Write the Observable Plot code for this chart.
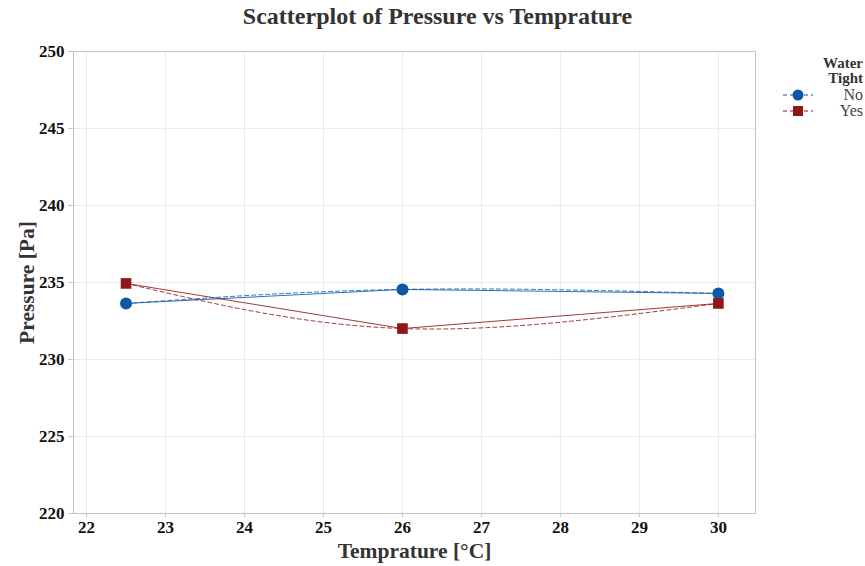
<!DOCTYPE html>
<html>
<head>
<meta charset="utf-8">
<script src="https://cdn.jsdelivr.net/npm/d3@7"></script>
<script src="https://cdn.jsdelivr.net/npm/@observablehq/plot@0.6"></script>
<style>
  body { margin: 0; background: #fff; }
  #wrap { position: relative; width: 865px; height: 566px; font-family: "Liberation Serif", "DejaVu Serif", serif; }
  #title { position: absolute; left: 0; width: 875px; top: 3px; text-align: center; font-weight: bold; font-size: 24px; color: #333; }
  #legend { position: absolute; right: 2px; top: 56px; font-size: 16px; color: #444; }
  #legend .lt { text-align: right; font-weight: bold; color: #333; line-height: 15px; font-size: 15px; margin-bottom: 1px; }
  #legend .row { display: flex; align-items: center; justify-content: space-between; height: 16px; }
  #legend .row span { margin-left: 26px; }
</style>
</head>
<body>
<div id="wrap">
  <div id="title">Scatterplot of Pressure vs Temprature</div>
  <div id="legend"></div>
</div>
<script>
const temps = [22.5, 26, 30];
const pressureNo = [233.64, 234.55, 234.29];
const pressureYes = [234.94, 232.01, 233.64];
const groups = ["No", "Yes"];
const groupColors = ["#0b57a8", "#8f1616"];
const xTicks = [22, 23, 24, 25, 26, 27, 28, 29, 30];
const yTicks = [220, 225, 230, 235, 240, 245, 250];

const data = [];
temps.forEach((t, i) => data.push({temp: t, pressure: pressureNo[i], group: "No"}));
temps.forEach((t, i) => data.push({temp: t, pressure: pressureYes[i], group: "Yes"}));
const color = {domain: groups, range: groupColors};

const plot = Plot.plot({
  width: 865,
  height: 566,
  marginLeft: 73,
  marginRight: 110,
  marginTop: 51,
  marginBottom: 53,
  style: {fontFamily: "'Liberation Serif', serif", background: "#fff"},
  x: {domain: [21.835, 30.47]},
  y: {domain: [220, 250]},
  color,
  marks: [
    Plot.gridX(xTicks, {stroke: "#ebebeb", strokeOpacity: 1}),
    Plot.gridY(yTicks, {stroke: "#ebebeb", strokeOpacity: 1}),
    Plot.frame({stroke: "#c4c4c4"}),
    Plot.axisY(yTicks, {tickSize: 5, tickPadding: 4, stroke: "#c4c4c4", fontSize: 17, fontWeight: "bold", fill: "#111",
      label: "Pressure [Pa]", labelAnchor: "center", labelArrow: "none", labelOffset: 55}),
    Plot.axisX(xTicks, {tickSize: 4, tickPadding: 3, stroke: "#c4c4c4", fontSize: 17, fontWeight: "bold", fill: "#111",
      label: "Temprature [°C]", labelAnchor: "center", labelArrow: "none", labelOffset: 44}),
    Plot.line(data, {x: "temp", y: "pressure", z: "group", stroke: "group", strokeWidth: 1, strokeOpacity: 0.85}),
    Plot.line(data, {x: "temp", y: "pressure", z: "group", stroke: "group", strokeWidth: 1, strokeDasharray: "4,3", curve: "natural", strokeOpacity: 0.85}),
    Plot.dot(data.filter(d => d.group === "No"), {x: "temp", y: "pressure", fill: "group", symbol: "circle", r: 6}),
    Plot.dot(data.filter(d => d.group === "Yes"), {x: "temp", y: "pressure", fill: "group", symbol: "square", r: 6})
  ]
});
plot.style.position = "absolute";
plot.style.left = "0";
plot.style.top = "0";
plot.style.zIndex = "0";
document.getElementById("wrap").prepend(plot);

// style axis labels
plot.querySelectorAll("[aria-label='y-axis label'] text, [aria-label='x-axis label'] text").forEach(t => {
  t.setAttribute("font-size", "21.5");
  t.setAttribute("font-weight", "bold");
  t.setAttribute("fill", "#333");
  t.style.fontSize = "21.5px";
});

// legend
const lg = document.getElementById("legend");
lg.style.zIndex = "1";
lg.innerHTML = '<div class="lt">Water<br>Tight</div>' + groups.map((g, i) => {
  const c = groupColors[i];
  const sym = i === 0
    ? `<circle cx="16" cy="8" r="5.5" fill="${c}"/>`
    : `<rect x="11" y="3" width="10" height="10" fill="${c}"/>`;
  return `<div class="row"><svg width="32" height="16"><line x1="1" x2="31" y1="8" y2="8" stroke="${c}" stroke-dasharray="4,3" stroke-width="1"/>${sym}</svg><span>${g}</span></div>`;
}).join("");
</script>
</body>
</html>
